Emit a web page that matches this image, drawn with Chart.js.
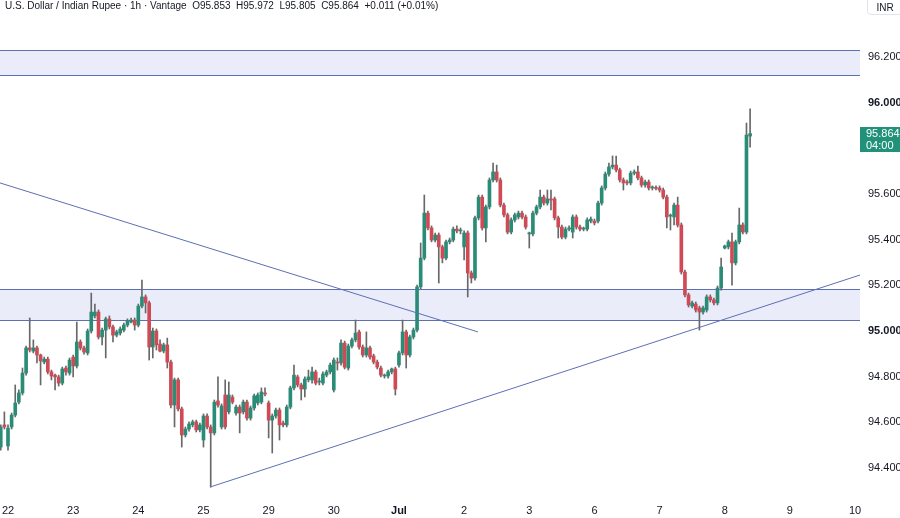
<!DOCTYPE html>
<html>
<head>
<meta charset="utf-8">
<script src="https://cdn.jsdelivr.net/npm/chart.js@4.4.1/dist/chart.umd.min.js"></script>
<style>
  html, body { margin: 0; padding: 0; background: #fff; }
  #wrap { position: relative; width: 900px; height: 518px; font-family: "Liberation Sans", Arial, sans-serif; }
  #fx { position: absolute; left: 0; top: 0; }
  #legend { position: absolute; left: 5px; top: 0; font-size: 10px; color: #131722; white-space: pre; line-height: 11px; }
  #cur { position: absolute; right: -3px; top: -5px; width: 36px; height: 20px; border: 1px solid #e0e3eb; border-radius: 4px;
         font-size: 10px; color: #131722; text-align: center; line-height: 24px; box-sizing: border-box; }
</style>
</head>
<body>
<div id="wrap">
  <canvas id="fx" width="900" height="518"></canvas>
  <div id="legend">U.S. Dollar / Indian Rupee · 1h · Vantage  O95.853  H95.972  L95.805  C95.864  +0.011 (+0.01%)</div>
  <div id="cur">INR</div>
</div>
<script>
// hourly candles, 18 per session, first two belong to the previous session
const candlesPerDay = 18;
const firstIndex = -2;
const dayLabels = ['22', '23', '24', '25', '29', '30', 'Jul', '2', '3', '6', '7', '8', '9', '10'];
const yTicks = [94.4, 94.6, 94.8, 95.0, 95.2, 95.4, 95.6, 95.8, 96.0, 96.2];

const candleOpen = [
  94.492, 94.589, 94.497, 94.580, 94.632, 94.689, 94.729, 94.816, 94.926, 94.912,
  94.926, 94.895, 94.864, 94.877, 94.821, 94.807, 94.799, 94.772, 94.838, 94.816,
  94.886, 94.847, 94.952, 94.926, 94.904, 95.000, 95.066, 95.083, 94.974, 95.004,
  95.053, 95.018, 94.982, 94.991, 95.004, 95.026, 95.039, 95.048, 95.026, 95.109,
  95.149, 95.123, 94.930, 95.000, 94.943, 94.912, 94.939, 94.864, 94.676, 94.786,
  94.659, 94.545, 94.571, 94.589, 94.602, 94.567, 94.523, 94.628, 94.580, 94.554,
  94.694, 94.580, 94.720, 94.646, 94.711, 94.641, 94.667, 94.646, 94.689, 94.619,
  94.663, 94.685, 94.689, 94.729, 94.685, 94.610, 94.628, 94.654, 94.597, 94.589,
  94.667, 94.751, 94.799, 94.764, 94.746, 94.786, 94.786, 94.821, 94.777, 94.772,
  94.807, 94.821, 94.742, 94.864, 94.860, 94.947, 94.838, 94.934, 94.961, 94.996,
  94.930, 94.895, 94.926, 94.891, 94.864, 94.838, 94.803, 94.803, 94.821, 94.834,
  94.851, 94.904, 94.996, 94.895, 94.974, 95.004, 95.193, 95.319, 95.516, 95.451,
  95.398, 95.420, 95.368, 95.319, 95.390, 95.398, 95.446, 95.438, 95.368, 95.429,
  95.254, 95.232, 95.495, 95.586, 95.451, 95.543, 95.661, 95.696, 95.661, 95.551,
  95.508, 95.433, 95.486, 95.499, 95.516, 95.499, 95.425, 95.425, 95.516, 95.543,
  95.586, 95.560, 95.578, 95.578, 95.495, 95.455, 95.411, 95.446, 95.433, 95.499,
  95.455, 95.446, 95.446, 95.481, 95.481, 95.481, 95.560, 95.626, 95.687, 95.718,
  95.726, 95.705, 95.661, 95.652, 95.648, 95.691, 95.696, 95.670, 95.639, 95.652,
  95.626, 95.626, 95.626, 95.617, 95.586, 95.503, 95.499, 95.551, 95.464, 95.258,
  95.158, 95.109, 95.118, 95.101, 95.083, 95.092, 95.149, 95.136, 95.123, 95.188,
  95.363, 95.368, 95.390, 95.298, 95.390, 95.464, 95.433, 95.853
];
const candleHigh = [
  94.589, 94.646, 94.589, 94.641, 94.764, 94.742, 94.838, 94.934, 95.057, 94.961,
  94.934, 94.899, 94.886, 94.886, 94.829, 94.812, 94.807, 94.842, 94.847, 94.882,
  94.895, 95.039, 94.961, 94.934, 95.009, 95.166, 95.118, 95.092, 95.013, 95.061,
  95.066, 95.026, 95.004, 95.018, 95.035, 95.053, 95.057, 95.057, 95.118, 95.223,
  95.158, 95.131, 95.013, 95.009, 94.961, 94.947, 94.969, 94.873, 94.794, 94.794,
  94.667, 94.580, 94.602, 94.610, 94.610, 94.597, 94.637, 94.637, 94.589, 94.698,
  94.799, 94.681, 94.786, 94.777, 94.720, 94.676, 94.676, 94.698, 94.698, 94.672,
  94.724, 94.729, 94.751, 94.751, 94.694, 94.637, 94.663, 94.663, 94.606, 94.676,
  94.759, 94.851, 94.807, 94.772, 94.799, 94.829, 94.842, 94.829, 94.794, 94.821,
  94.829, 94.860, 94.882, 94.882, 94.961, 94.956, 94.943, 94.969, 95.048, 95.004,
  94.939, 94.996, 94.934, 94.899, 94.873, 94.847, 94.812, 94.829, 94.838, 94.842,
  94.912, 95.048, 95.004, 94.982, 95.013, 95.201, 95.385, 95.595, 95.525, 95.460,
  95.429, 95.429, 95.376, 95.398, 95.407, 95.455, 95.460, 95.451, 95.438, 95.438,
  95.263, 95.503, 95.595, 95.595, 95.551, 95.670, 95.735, 95.726, 95.670, 95.560,
  95.516, 95.495, 95.516, 95.525, 95.525, 95.508, 95.433, 95.525, 95.551, 95.617,
  95.595, 95.617, 95.617, 95.586, 95.503, 95.464, 95.455, 95.460, 95.508, 95.508,
  95.464, 95.455, 95.495, 95.499, 95.490, 95.569, 95.635, 95.696, 95.735, 95.766,
  95.766, 95.713, 95.670, 95.661, 95.700, 95.705, 95.722, 95.678, 95.661, 95.661,
  95.635, 95.635, 95.635, 95.626, 95.595, 95.512, 95.560, 95.586, 95.473, 95.267,
  95.166, 95.131, 95.127, 95.109, 95.109, 95.158, 95.158, 95.144, 95.197, 95.319,
  95.376, 95.398, 95.429, 95.398, 95.538, 95.473, 95.910, 95.972
];
const candleLow = [
  94.479, 94.571, 94.479, 94.571, 94.624, 94.681, 94.720, 94.807, 94.908, 94.904,
  94.860, 94.764, 94.856, 94.812, 94.786, 94.742, 94.759, 94.764, 94.807, 94.807,
  94.799, 94.838, 94.917, 94.899, 94.895, 94.991, 95.057, 94.965, 94.939, 94.882,
  95.009, 94.952, 94.974, 94.982, 94.996, 95.018, 95.035, 95.004, 95.018, 95.101,
  95.079, 94.873, 94.882, 94.917, 94.908, 94.904, 94.838, 94.663, 94.580, 94.650,
  94.492, 94.536, 94.562, 94.580, 94.558, 94.558, 94.492, 94.571, 94.317, 94.545,
  94.667, 94.571, 94.571, 94.637, 94.681, 94.632, 94.554, 94.637, 94.610, 94.610,
  94.654, 94.676, 94.681, 94.716, 94.532, 94.466, 94.619, 94.523, 94.580, 94.580,
  94.659, 94.742, 94.755, 94.698, 94.711, 94.777, 94.772, 94.764, 94.764, 94.764,
  94.799, 94.812, 94.733, 94.829, 94.851, 94.834, 94.829, 94.926, 94.952, 94.921,
  94.886, 94.886, 94.877, 94.856, 94.834, 94.799, 94.794, 94.794, 94.812, 94.720,
  94.842, 94.895, 94.838, 94.886, 94.965, 94.996, 95.184, 95.311, 95.442, 95.390,
  95.390, 95.210, 95.298, 95.311, 95.381, 95.390, 95.429, 95.425, 95.311, 95.149,
  95.210, 95.223, 95.486, 95.442, 95.390, 95.534, 95.652, 95.652, 95.543, 95.499,
  95.425, 95.425, 95.477, 95.490, 95.490, 95.446, 95.363, 95.416, 95.508, 95.534,
  95.551, 95.551, 95.530, 95.486, 95.407, 95.403, 95.403, 95.438, 95.407, 95.446,
  95.438, 95.438, 95.438, 95.473, 95.464, 95.473, 95.551, 95.617, 95.678, 95.709,
  95.696, 95.652, 95.617, 95.639, 95.639, 95.683, 95.661, 95.630, 95.630, 95.617,
  95.617, 95.617, 95.608, 95.578, 95.451, 95.442, 95.464, 95.455, 95.249, 95.149,
  95.105, 95.101, 95.083, 95.004, 95.074, 95.083, 95.127, 95.114, 95.114, 95.179,
  95.359, 95.359, 95.201, 95.289, 95.381, 95.425, 95.425, 95.805
];
const candleClose = [
  94.580, 94.580, 94.575, 94.632, 94.685, 94.729, 94.816, 94.926, 94.917, 94.926,
  94.895, 94.869, 94.877, 94.821, 94.803, 94.799, 94.772, 94.834, 94.821, 94.873,
  94.847, 94.952, 94.926, 94.908, 95.000, 95.083, 95.083, 94.974, 95.004, 95.053,
  95.018, 94.982, 94.996, 95.009, 95.026, 95.044, 95.048, 95.026, 95.109, 95.149,
  95.123, 94.930, 95.000, 94.939, 94.912, 94.939, 94.864, 94.676, 94.786, 94.659,
  94.545, 94.571, 94.593, 94.602, 94.567, 94.589, 94.628, 94.580, 94.554, 94.689,
  94.676, 94.672, 94.580, 94.720, 94.689, 94.667, 94.641, 94.689, 94.619, 94.663,
  94.716, 94.720, 94.733, 94.724, 94.610, 94.628, 94.654, 94.589, 94.589, 94.667,
  94.751, 94.807, 94.764, 94.746, 94.790, 94.799, 94.821, 94.772, 94.777, 94.812,
  94.821, 94.851, 94.873, 94.860, 94.947, 94.842, 94.934, 94.961, 94.991, 94.930,
  94.895, 94.926, 94.886, 94.864, 94.842, 94.807, 94.803, 94.821, 94.834, 94.746,
  94.904, 94.996, 94.895, 94.974, 95.004, 95.193, 95.319, 95.516, 95.451, 95.398,
  95.420, 95.368, 95.319, 95.390, 95.398, 95.446, 95.438, 95.438, 95.429, 95.254,
  95.232, 95.495, 95.586, 95.451, 95.543, 95.661, 95.696, 95.661, 95.551, 95.508,
  95.433, 95.486, 95.508, 95.516, 95.499, 95.455, 95.425, 95.516, 95.543, 95.586,
  95.560, 95.578, 95.573, 95.495, 95.455, 95.411, 95.446, 95.451, 95.499, 95.455,
  95.446, 95.446, 95.486, 95.490, 95.473, 95.560, 95.626, 95.687, 95.718, 95.726,
  95.705, 95.661, 95.648, 95.648, 95.691, 95.696, 95.670, 95.639, 95.652, 95.626,
  95.626, 95.624, 95.617, 95.586, 95.499, 95.503, 95.551, 95.464, 95.258, 95.158,
  95.114, 95.123, 95.092, 95.083, 95.101, 95.149, 95.136, 95.123, 95.188, 95.280,
  95.372, 95.390, 95.298, 95.390, 95.464, 95.433, 95.858, 95.864
];

// drawings: supply/demand zones and trend lines
const zones = [[96.120, 96.230], [95.048, 95.184]];
const downTrend = [{ x: -2.21, y: 95.648 }, { x: 129.8, y: 94.996 }];
const upTrend = [{ x: 55.8, y: 94.317 }, { x: 235.36, y: 95.245 }];
const countdown = '04:00';

const xMin = -2.21, xMax = 235.36;
const yMin = 94.2954, yMax = 96.4486;

const upColor = '#2a8c77', downColor = '#cf4a55', wickColor = '#686868';
const drawColor = '#5d6fb5';

const candleColors = candleClose.map((c, k) => c >= candleOpen[k] ? upColor : downColor);
const lastClose = candleClose[candleClose.length - 1];

// zones behind candles
const zonePlugin = {
    id: 'zones',
    beforeDatasetsDraw(chart) {
        const { ctx, chartArea, scales: { y } } = chart;
        ctx.save();
        zones.forEach(([lo, hi]) => {
            const top = Math.round(y.getPixelForValue(hi)) + 0.5;
            const bot = Math.round(y.getPixelForValue(lo)) + 0.5;
            ctx.fillStyle = 'rgba(92,112,214,0.13)';
            ctx.fillRect(chartArea.left, top, chartArea.right - chartArea.left, bot - top);
            ctx.strokeStyle = drawColor;
            ctx.lineWidth = 1;
            ctx.beginPath();
            ctx.moveTo(chartArea.left, top); ctx.lineTo(chartArea.right, top);
            ctx.moveTo(chartArea.left, bot); ctx.lineTo(chartArea.right, bot);
            ctx.stroke();
        });
        ctx.restore();
    }
};

// last price tag on the price axis
const priceTag = {
    id: 'priceTag',
    afterDraw(chart) {
        const { ctx, chartArea, scales: { y } } = chart;
        const yy = Math.round(y.getPixelForValue(lastClose));
        ctx.save();
        ctx.fillStyle = '#22917a';
        ctx.fillRect(chartArea.right, yy - 7, 40, 25);
        ctx.fillStyle = '#ffffff';
        ctx.font = '11px "Liberation Sans", Arial, sans-serif';
        ctx.textBaseline = 'middle';
        ctx.fillText(lastClose.toFixed(3), chartArea.right + 6, yy);
        ctx.fillText(countdown, chartArea.right + 6, yy + 12);
        ctx.restore();
    }
};

const ctx = document.getElementById('fx').getContext('2d');
new Chart(ctx, {
    type: 'bar',
    data: {
        datasets: [
            {
                type: 'line',
                data: downTrend,
                borderColor: drawColor,
                borderWidth: 1,
                pointRadius: 0,
                order: 0
            },
            {
                type: 'line',
                data: upTrend,
                borderColor: drawColor,
                borderWidth: 1,
                pointRadius: 0,
                order: 0
            },
            {
                data: candleOpen.map((o, k) => ({ x: firstIndex + k, y: [o, candleClose[k]] })),
                backgroundColor: candleColors,
                grouped: false,
                barPercentage: 1,
                categoryPercentage: 1,
                maxBarThickness: 3,
                minBarLength: 1,
                order: 1
            },
            {
                data: candleHigh.map((h, k) => ({ x: firstIndex + k, y: [candleLow[k], h] })),
                backgroundColor: wickColor,
                grouped: false,
                barPercentage: 1,
                categoryPercentage: 1,
                maxBarThickness: 1,
                order: 2
            }
        ]
    },
    options: {
        responsive: false,
        animation: false,
        layout: { padding: 0 },
        plugins: { legend: { display: false }, tooltip: { enabled: false } },
        scales: {
            x: {
                type: 'linear',
                min: xMin,
                max: xMax,
                offset: false,
                grid: { display: false, drawTicks: false },
                border: { display: false },
                afterFit: s => { s.height = 26; s.paddingLeft = 0; s.paddingRight = 0; },
                afterBuildTicks: s => { s.ticks = dayLabels.map((_, k) => ({ value: k * candlesPerDay })); },
                ticks: {
                    autoSkip: false,
                    maxRotation: 0,
                    padding: 12,
                    color: '#131722',
                    font: c => ({ family: '"Liberation Sans", Arial, sans-serif', size: 11, weight: dayLabels[c.index] === 'Jul' ? 'bold' : 'normal' }),
                    callback: (v, i) => dayLabels[i]
                }
            },
            y: {
                position: 'right',
                min: yMin,
                max: yMax,
                grid: { display: false, drawTicks: false },
                border: { display: false },
                afterFit: s => { s.width = 40; s.paddingTop = 0; s.paddingBottom = 0; },
                afterBuildTicks: s => { s.ticks = yTicks.map(v => ({ value: v })); },
                ticks: {
                    padding: 8,
                    color: '#131722',
                    font: c => ({ family: '"Liberation Sans", Arial, sans-serif', size: 11, weight: (c.tick && Math.abs(c.tick.value % 1) < 1e-6) ? 'bold' : 'normal' }),
                    callback: v => v.toFixed(3)
                }
            }
        }
    },
    plugins: [zonePlugin, priceTag]
});
</script>
</body>
</html>
